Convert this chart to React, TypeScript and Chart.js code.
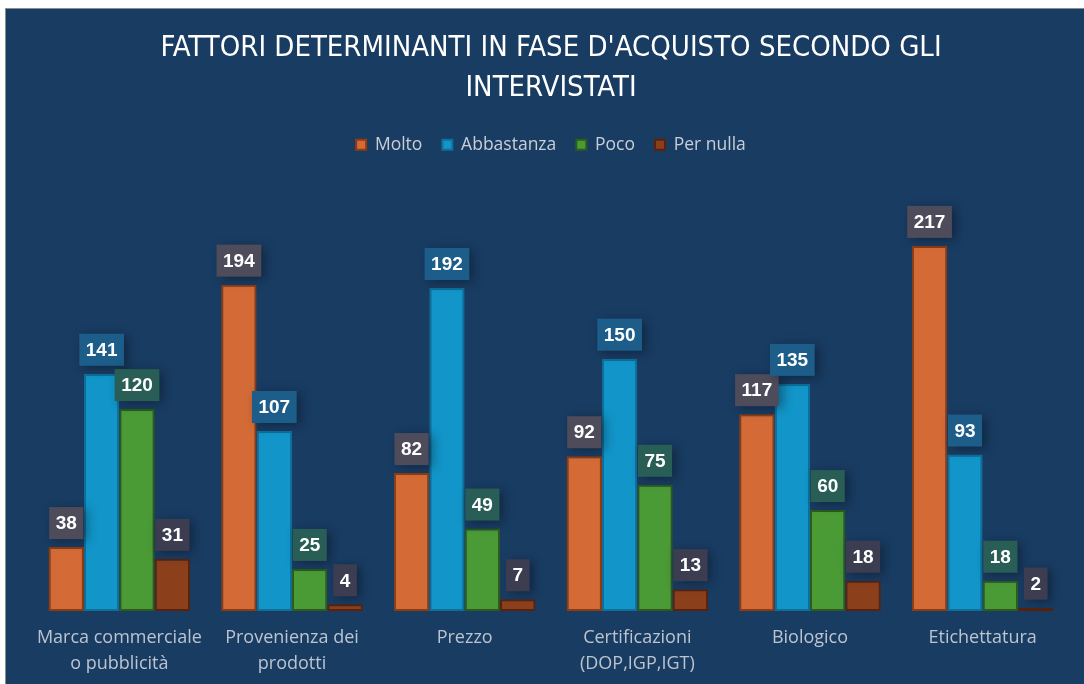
import React, { useEffect, useRef } from "react";
import { Chart, registerables } from "chart.js";

Chart.register(...registerables);

const categories: (string | string[])[] = [
  ["Marca commerciale", "o pubblicità"],
  ["Provenienza dei", "prodotti"],
  "Prezzo",
  ["Certificazioni", "(DOP,IGP,IGT)"],
  "Biologico",
  "Etichettatura",
];
const seriesNames = ["Molto", "Abbastanza", "Poco", "Per nulla"];
const molto = [38, 194, 82, 92, 117, 217];
const abbastanza = [141, 107, 192, 150, 135, 93];
const poco = [120, 25, 49, 75, 60, 18];
const perNulla = [31, 4, 7, 13, 18, 2];
const titleLines = ["FATTORI DETERMINANTI IN FASE D'ACQUISTO SECONDO GLI", "INTERVISTATI"];

const fills = ["#D46B37", "#1295C8", "#4A9A36", "#8B3F1B"];
const borders = ["#8E3B12", "#0E6F9A", "#2C5B1C", "#5A220B"];
const labelBg = ["#4E4B5B", "#1C5D8A", "#285E55", "#3C3D50"];
const Y_MAX = 266;

const labelPlugin = {
  id: "boxLabels",
  afterDatasetsDraw(chart: any) {
    const ctx = chart.ctx as CanvasRenderingContext2D;
    ctx.save();
    ctx.font = "bold 19px 'Liberation Sans', Arial, sans-serif";
    chart.data.datasets.forEach((ds: any, di: number) => {
      const meta = chart.getDatasetMeta(di);
      meta.data.forEach((bar: any, i: number) => {
        const txt = String(ds.data[i]);
        const tw = ctx.measureText(txt).width;
        const w = tw + 13;
        const h = 32;
        const x = bar.x - w / 2;
        const y = bar.y - 8 - h;
        ctx.save();
        ctx.shadowColor = "rgba(0,0,0,0.35)";
        ctx.shadowBlur = 10;
        ctx.shadowOffsetX = 4;
        ctx.shadowOffsetY = 2;
        ctx.fillStyle = labelBg[di];
        ctx.fillRect(x, y, w, h);
        ctx.restore();
        ctx.fillStyle = "#ffffff";
        ctx.textAlign = "center";
        ctx.textBaseline = "middle";
        ctx.fillText(txt, bar.x, y + h / 2 + 1);
      });
    });
    ctx.restore();
  },
};

export default function App() {
  const ref = useRef<HTMLCanvasElement>(null);
  useEffect(() => {
    if (!ref.current) return;
    const values = [molto, abbastanza, poco, perNulla];
    const chart = new Chart(ref.current, {
      type: "bar",
      data: {
        labels: categories,
        datasets: seriesNames.map((name, k) => ({
          label: name,
          data: values[k],
          backgroundColor: fills[k],
          borderColor: borders[k],
          borderWidth: 2,
          borderSkipped: false,
          categoryPercentage: 0.82,
          barPercentage: 1.0,
        })),
      },
      options: {
        responsive: false,
        animation: false,
        devicePixelRatio: 1,
        layout: { padding: { top: 0, left: 27, right: 15, bottom: 8 } },
        plugins: {
          title: {
            display: true,
            text: titleLines,
            color: "#ffffff",
            font: { family: "'Liberation Sans Narrow', 'DejaVu Sans Condensed', sans-serif", size: 29, weight: "normal", lineHeight: 40 / 29 },
            padding: { top: 19, bottom: 8 },
          },
          legend: {
            display: true,
            position: "top",
            labels: {
              color: "#C9CED6",
              font: { family: "'Open Sans', sans-serif", size: 17.5 },
              boxWidth: 10,
              boxHeight: 10,
              padding: 20,
            },
          },
          tooltip: { enabled: false },
        },
        scales: {
          x: {
            grid: { display: false, drawTicks: false },
            border: { display: false },
            ticks: {
              color: "#BCC4CF",
              font: { family: "'Open Sans', sans-serif", size: 18, lineHeight: 26 / 18 },
              padding: 14,
              maxRotation: 0,
              autoSkip: false,
            },
          },
          y: {
            display: false,
            min: 0,
            max: Y_MAX,
          },
        },
      },
      plugins: [labelPlugin],
    });
    return () => chart.destroy();
  }, []);
  return (
    <div
      style={{
        position: "absolute",
        left: 5,
        top: 8,
        width: 1080,
        height: 677,
        background: "#193C63",
        borderTop: "1px solid #8C8C8C",
        borderLeft: "1px solid #8C8C8C",
        overflow: "hidden",
      }}
    >
      <canvas ref={ref} width={1078} height={690} style={{ display: "block" }} />
    </div>
  );
}
